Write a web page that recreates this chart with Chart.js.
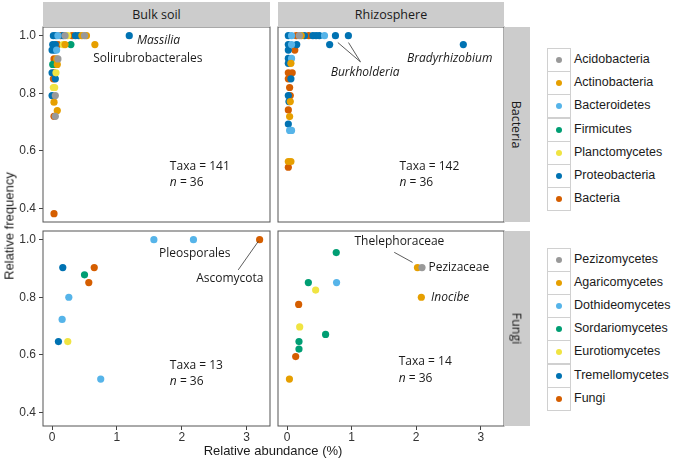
<!DOCTYPE html>
<html>
<head>
<meta charset="utf-8">
<script src="https://cdn.jsdelivr.net/npm/chart.js@4.4.1/dist/chart.umd.min.js"></script>
<style>
  body { margin: 0; background: #fff; }
  #wrap { position: relative; width: 675px; height: 461px; overflow: hidden; font-family: "Liberation Sans", Arial, sans-serif; color: #1a1a1a; }
  canvas { position: absolute; }
  .strip { position: absolute; background: #cccccc; display: flex; align-items: center; justify-content: center; font: 12.5px "Open Sans", sans-serif; color: #1a1a1a; }
  .strip span.v { transform: rotate(90deg); white-space: nowrap; }
  .title { position: absolute; font-size: 13px; white-space: nowrap; }
  .key { position: absolute; left: 547px; width: 24px; height: 24px; box-sizing: border-box; border: 1px solid #d0d0d0; background: #fff; }
  .key i { position: absolute; left: 8px; top: 8px; width: 6px; height: 6px; border-radius: 50%; }
  .lab { position: absolute; left: 574px; font-size: 12.5px; white-space: nowrap; line-height: 23px; }
</style>
</head>
<body>
<div id="wrap">
  <canvas id="c00"></canvas>
  <canvas id="c01"></canvas>
  <canvas id="c10"></canvas>
  <canvas id="c11"></canvas>
  <div class="strip" style="left:43px;top:2px;width:227px;height:25px">Bulk soil</div>
  <div class="strip" style="left:278px;top:2px;width:226px;height:25px">Rhizosphere</div>
  <div class="strip" style="left:504px;top:27px;width:26px;height:195px"><span class="v">Bacteria</span></div>
  <div class="strip" style="left:504px;top:231px;width:26px;height:195px"><span class="v">Fungi</span></div>
  <div class="title" style="left:9px;top:226px;transform:translate(-50%,-50%) rotate(-90deg)">Relative frequency</div>
  <div class="title" style="left:273px;top:450px;transform:translate(-50%,-50%)">Relative abundance (%)</div>
  <div id="legend"></div>
</div>
<script>
// legend groups
const bacteriaClasses = ['Acidobacteria', 'Actinobacteria', 'Bacteroidetes', 'Firmicutes', 'Planctomycetes', 'Proteobacteria', 'Bacteria'];
const fungiClasses = ['Pezizomycetes', 'Agaricomycetes', 'Dothideomycetes', 'Sordariomycetes', 'Eurotiomycetes', 'Tremellomycetes', 'Fungi'];
const classColors = ['#999999', '#E69F00', '#56B4E9', '#009E73', '#F0E442', '#0072B2', '#D55E00'];

const xTicks = [0, 1, 2, 3];
const yTicks = [0.4, 0.6, 0.8, 1.0];

// bulk soil, bacteria (abundance %, frequency, class index)
const bulkBacX = [0.02, 0.06, 0.09, 0.13, 0.17, 0.2, 0.24, 0.31, 0.36, 0.41, 0.46, 0.5, 0.53, 1.19,
  0.01, 0.05, 0.09, 0.17, 0.2, 0.29, 0.66,
  0.0, 0.04, 0.07, 0.03, 0.07, 0.09, 0.01, 0.04, 0.08, 0.0, 0.03, 0.06,
  0.02, 0.05, 0.02, 0.04, 0.0, 0.05, 0.03, 0.08, 0.03, 0.05, 0.03];
const bulkBacY = [1.0, 1.0, 1.0, 1.0, 1.0, 1.0, 1.0, 1.0, 1.0, 1.0, 1.0, 1.0, 1.0, 1.0,
  0.969, 0.969, 0.969, 0.969, 0.969, 0.969, 0.969,
  0.95, 0.95, 0.95, 0.919, 0.919, 0.919, 0.90, 0.90, 0.90, 0.871, 0.871, 0.871,
  0.85, 0.85, 0.82, 0.82, 0.792, 0.792, 0.769, 0.74, 0.72, 0.72, 0.382];
const bulkBacC = [5, 5, 2, 6, 5, 0, 4, 6, 5, 5, 1, 0, 1, 5,
  5, 5, 6, 4, 1, 3, 1,
  5, 5, 2, 6, 1, 0, 3, 5, 1, 5, 6, 4,
  6, 5, 4, 4, 5, 0, 1, 1, 6, 0, 6];

// rhizosphere, bacteria
const rhizoBacX = [0.02, 0.07, 0.145, 0.19, 0.22, 0.27, 0.335, 0.4, 0.45, 0.5, 0.58, 0.75, 0.95,
  0.02, 0.07, 0.15, 0.66, 2.73,
  0.02, 0.12, 0.02, 0.07, 0.02, 0.06, 0.02, 0.08, 0.02, 0.06, 0.04,
  0.02, 0.05, 0.05, 0.03, 0.02, 0.04, 0.02, 0.04, 0.07, 0.02, 0.06, 0.02];
const rhizoBacY = [1.0, 1.0, 1.0, 1.0, 1.0, 1.0, 1.0, 1.0, 1.0, 1.0, 1.0, 1.0, 1.0,
  0.969, 0.969, 0.969, 0.969, 0.969,
  0.95, 0.95, 0.921, 0.921, 0.904, 0.904, 0.871, 0.871, 0.85, 0.85, 0.82,
  0.792, 0.792, 0.771, 0.771, 0.742, 0.719, 0.693, 0.671, 0.671, 0.563, 0.563, 0.543];
const rhizoBacC = [5, 2, 6, 0, 1, 5, 6, 5, 5, 5, 2, 5, 5,
  5, 2, 5, 5, 5,
  5, 6, 5, 2, 5, 1, 6, 6, 6, 5, 6,
  5, 6, 1, 5, 6, 1, 5, 2, 2, 1, 1, 6];

// bulk soil, fungi
const bulkFunX = [1.57, 2.18, 3.2, 0.165, 0.65, 0.5, 0.566, 0.258, 0.155, 0.098, 0.242, 0.75];
const bulkFunY = [1.0, 1.0, 1.0, 0.903, 0.903, 0.878, 0.851, 0.80, 0.723, 0.646, 0.646, 0.516];
const bulkFunC = [2, 2, 6, 5, 6, 3, 6, 2, 2, 5, 4, 2];

// rhizosphere, fungi
const rhizoFunX = [0.762, 2.02, 2.09, 0.33, 0.767, 0.443, 2.08, 0.18, 0.196, 0.597, 0.185, 0.185, 0.134, 0.037];
const rhizoFunY = [0.955, 0.903, 0.903, 0.851, 0.851, 0.825, 0.80, 0.775, 0.697, 0.671, 0.646, 0.62, 0.594, 0.516];
const rhizoFunC = [3, 1, 0, 3, 2, 4, 1, 6, 4, 3, 3, 3, 6, 1];

const X_MIN = -0.14, X_MAX = 3.36;
const Y_MIN = 0.353, Y_MAX = 1.03;

// legends
const legendEl = document.getElementById('legend');
function addLegend(names, top) {
  names.forEach((name, i) => {
    const t = top + i * 23.2;
    legendEl.insertAdjacentHTML('beforeend',
      `<div class="key" style="top:${t}px"><i style="background:${classColors[i]}"></i></div>` +
      `<div class="lab" style="top:${t}px">${name}</div>`);
  });
}
addLegend(bacteriaClasses, 48);
addLegend(fungiClasses, 247.5);

const NOTE_FONT = '12px "Open Sans"';

// panel border + text labels drawn in data coordinates
const notesPlugin = {
  id: 'notes',
  beforeDatasetsDraw(chart) {
    const a = chart.chartArea, ctx = chart.ctx;
    ctx.save();
    ctx.strokeStyle = '#555';
    ctx.lineWidth = 1;
    ctx.strokeRect(a.left, a.top, a.right - a.left, a.bottom - a.top);
    ctx.restore();
  },
  afterDatasetsDraw(chart, args, opts) {
    const ctx = chart.ctx, sx = chart.scales.x, sy = chart.scales.y;
    ctx.save();
    ctx.fillStyle = '#1a1a1a';
    ctx.textBaseline = 'middle';
    (opts.items || []).forEach(n => {
      if (n.line) {
        ctx.strokeStyle = '#333';
        ctx.lineWidth = 0.8;
        ctx.beginPath();
        ctx.moveTo(sx.getPixelForValue(n.line[0]), sy.getPixelForValue(n.line[1]));
        ctx.lineTo(sx.getPixelForValue(n.line[2]), sy.getPixelForValue(n.line[3]));
        ctx.stroke();
        return;
      }
      const px = sx.getPixelForValue(n.x), py = sy.getPixelForValue(n.y);
      if (n.nLabel) {
        ctx.textAlign = 'left';
        ctx.font = 'italic ' + NOTE_FONT;
        ctx.fillText('n', px, py);
        const w = ctx.measureText('n').width;
        ctx.font = NOTE_FONT;
        ctx.fillText(' = 36', px + w, py);
        return;
      }
      ctx.textAlign = n.align || 'left';
      ctx.font = (n.it ? 'italic ' : '') + NOTE_FONT;
      ctx.fillText(n.t, px, py);
    });
    ctx.restore();
  }
};

// panel frame positions on the page
const COLS = [[43, 270], [278, 504]];
const ROWS = [[27, 222], [231, 426]];

function makePanel(id, r, c, xs, ys, cs, items) {
  const showX = r === 1, showY = c === 0;
  const l = c === 0 ? 0 : COLS[c][0] - 20;
  const t = ROWS[r][0] - 22;
  const geo = { l: l, t: t, w: COLS[c][1] + 20 - l, h: (r === 1 ? 461 : ROWS[r][1] + 22) - t };
  const cv = document.getElementById(id);
  cv.width = geo.w; cv.height = geo.h;
  cv.style.left = geo.l + 'px'; cv.style.top = geo.t + 'px';
  cv.style.width = geo.w + 'px'; cv.style.height = geo.h + 'px';

  const datasets = classColors.map((col, k) => ({
    data: xs.map((x, i) => ({ x: x, y: ys[i], c: cs[i] })).filter(p => p.c === k),
    backgroundColor: col,
    borderWidth: 0,
    pointRadius: 3.6,
    pointHoverRadius: 3.6
  }));

  const tickStyle = { family: '"Liberation Sans", Arial', size: 12 };
  const chart = new Chart(cv, {
    type: 'scatter',
    data: { datasets: datasets },
    options: {
      responsive: false,
      animation: false,
      layout: { padding: { top: 20, right: 20, bottom: 20, left: 20 } },
      plugins: { legend: { display: false }, tooltip: { enabled: false }, notes: { items: items } },
      scales: {
        x: {
          type: 'linear', min: X_MIN, max: X_MAX, display: showX,
          afterBuildTicks: s => { s.ticks = xTicks.map(v => ({ value: v })); },
          border: { display: false },
          grid: { drawOnChartArea: false, tickLength: 4, tickColor: '#444' },
          ticks: { color: '#333', font: tickStyle, padding: 0, maxRotation: 0, callback: v => v }
        },
        y: {
          type: 'linear', min: Y_MIN, max: Y_MAX, display: showY,
          afterBuildTicks: s => { s.ticks = yTicks.map(v => ({ value: v })); },
          border: { display: false },
          grid: { drawOnChartArea: false, tickLength: 4, tickColor: '#444' },
          ticks: { color: '#333', font: tickStyle, padding: 3, callback: v => v.toFixed(1) }
        }
      }
    },
    plugins: [notesPlugin]
  });

  // nudge padding until the plot area sits on the panel frame
  const want = { left: COLS[c][0] - geo.l, right: COLS[c][1] - geo.l, top: ROWS[r][0] - geo.t, bottom: ROWS[r][1] - geo.t };
  for (let k = 0; k < 5; k++) {
    const a = chart.chartArea, p = chart.options.layout.padding;
    p.left += want.left - a.left;
    p.top += want.top - a.top;
    p.right += a.right - want.right;
    p.bottom += a.bottom - want.bottom;
    chart.update();
  }
  return chart;
}

makePanel('c00', 0, 0, bulkBacX, bulkBacY, bulkBacC, [
  { t: 'Massilia', x: 1.31, y: 0.982, it: true },
  { t: 'Solirubrobacterales', x: 0.633, y: 0.921 },
  { t: 'Taxa = 141', x: 1.816, y: 0.546 },
  { nLabel: true, x: 1.816, y: 0.489 }
]);

makePanel('c01', 0, 1, rhizoBacX, rhizoBacY, rhizoBacC, [
  { line: [0.787, 0.976, 1.137, 0.909] },
  { line: [0.952, 0.976, 1.137, 0.909] },
  { t: 'Burkholderia', x: 1.21, y: 0.873, it: true, align: 'center' },
  { t: 'Bradyrhizobium', x: 2.52, y: 0.921, it: true, align: 'center' },
  { t: 'Taxa = 142', x: 1.74, y: 0.546 },
  { nLabel: true, x: 1.74, y: 0.489 }
]);

makePanel('c10', 1, 0, bulkFunX, bulkFunY, bulkFunC, [
  { t: 'Pleosporales', x: 2.2, y: 0.951, align: 'center' },
  { line: [2.87, 0.895, 3.18, 0.994] },
  { t: 'Ascomycota', x: 2.74, y: 0.866, align: 'center' },
  { t: 'Taxa = 13', x: 1.816, y: 0.563 },
  { nLabel: true, x: 1.816, y: 0.507 }
]);

makePanel('c11', 1, 1, rhizoFunX, rhizoFunY, rhizoFunC, [
  { t: 'Thelephoraceae', x: 1.74, y: 0.992, align: 'center' },
  { line: [1.66, 0.956, 1.944, 0.921] },
  { t: 'Pezizaceae', x: 2.19, y: 0.903 },
  { t: 'Inocibe', x: 2.23, y: 0.80, it: true },
  { t: 'Taxa = 14', x: 1.73, y: 0.577 },
  { nLabel: true, x: 1.73, y: 0.519 }
]);
</script>
</body>
</html>
